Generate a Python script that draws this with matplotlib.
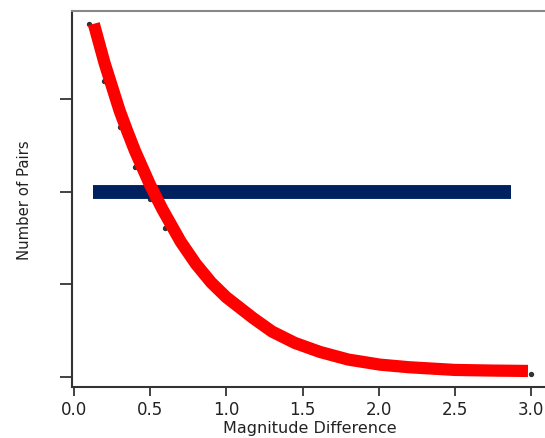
import numpy as np
import matplotlib.pyplot as plt

# measured pairs (black dots)
dot_x = [0.1, 0.2, 0.3, 0.4, 0.5, 0.6, 3.0]
dot_y = [381, 319, 270, 226, 192, 161, 3]

# fitted curve
fit_x = [0.13, 0.2, 0.3, 0.35, 0.4, 0.5, 0.58, 0.7, 0.8, 0.9, 1.0, 1.175,
         1.3, 1.45, 1.615, 1.8, 2.009, 2.2, 2.5, 2.75, 2.98]
fit_y = [381, 339, 287, 265, 244, 207, 181, 146, 122, 102, 86, 63.6,
         49, 36.7, 27, 18.8, 13.3, 10.5, 7.6, 6.9, 6.5]

# constant level (navy bar)
level_x = [0.125, 2.87]
level_y = [200, 200]

fig = plt.figure(figsize=(5.45, 4.39), dpi=100)
ax = fig.add_axes([0.1321, 0.1162, 0.8716, 0.8565])

ax.plot(level_x, level_y, color='#002060', lw=10, solid_capstyle='butt', zorder=2)
ax.scatter(dot_x, dot_y, s=8, color='#333333', zorder=1)
ax.plot(fit_x, fit_y, color='#ff0000', lw=8.8, solid_capstyle='butt',
        solid_joinstyle='round', zorder=3)

ax.set_xlim(-0.0131, 3.105)
ax.set_ylim(-10.8, 394.8)
ax.set_xticks(np.arange(0, 3.01, 0.5))
ax.set_xticklabels(['0.0', '0.5', '1.0', '1.5', '2.0', '2.5', '3.0'])
ax.set_yticks([0, 100, 200, 300])
ax.set_yticklabels([])

ax.tick_params(axis='x', direction='out', length=6.5, width=1.2, pad=3,
               labelsize=12, colors='#222222')
ax.tick_params(axis='y', direction='out', length=8.6, width=1.2, colors='#222222')

for side in ['left', 'bottom']:
    ax.spines[side].set_color('#333333')
    ax.spines[side].set_linewidth(1.5)
ax.spines['top'].set_color('#888888')
ax.spines['top'].set_linewidth(1.5)
ax.spines['right'].set_visible(False)

ax.set_xlabel('Magnitude Difference', fontsize=11.5, color='#222222', labelpad=1)
ax.set_ylabel('Number of Pairs', fontsize=10.7, color='#222222', labelpad=17)

fig.savefig('out.png', dpi=100)
